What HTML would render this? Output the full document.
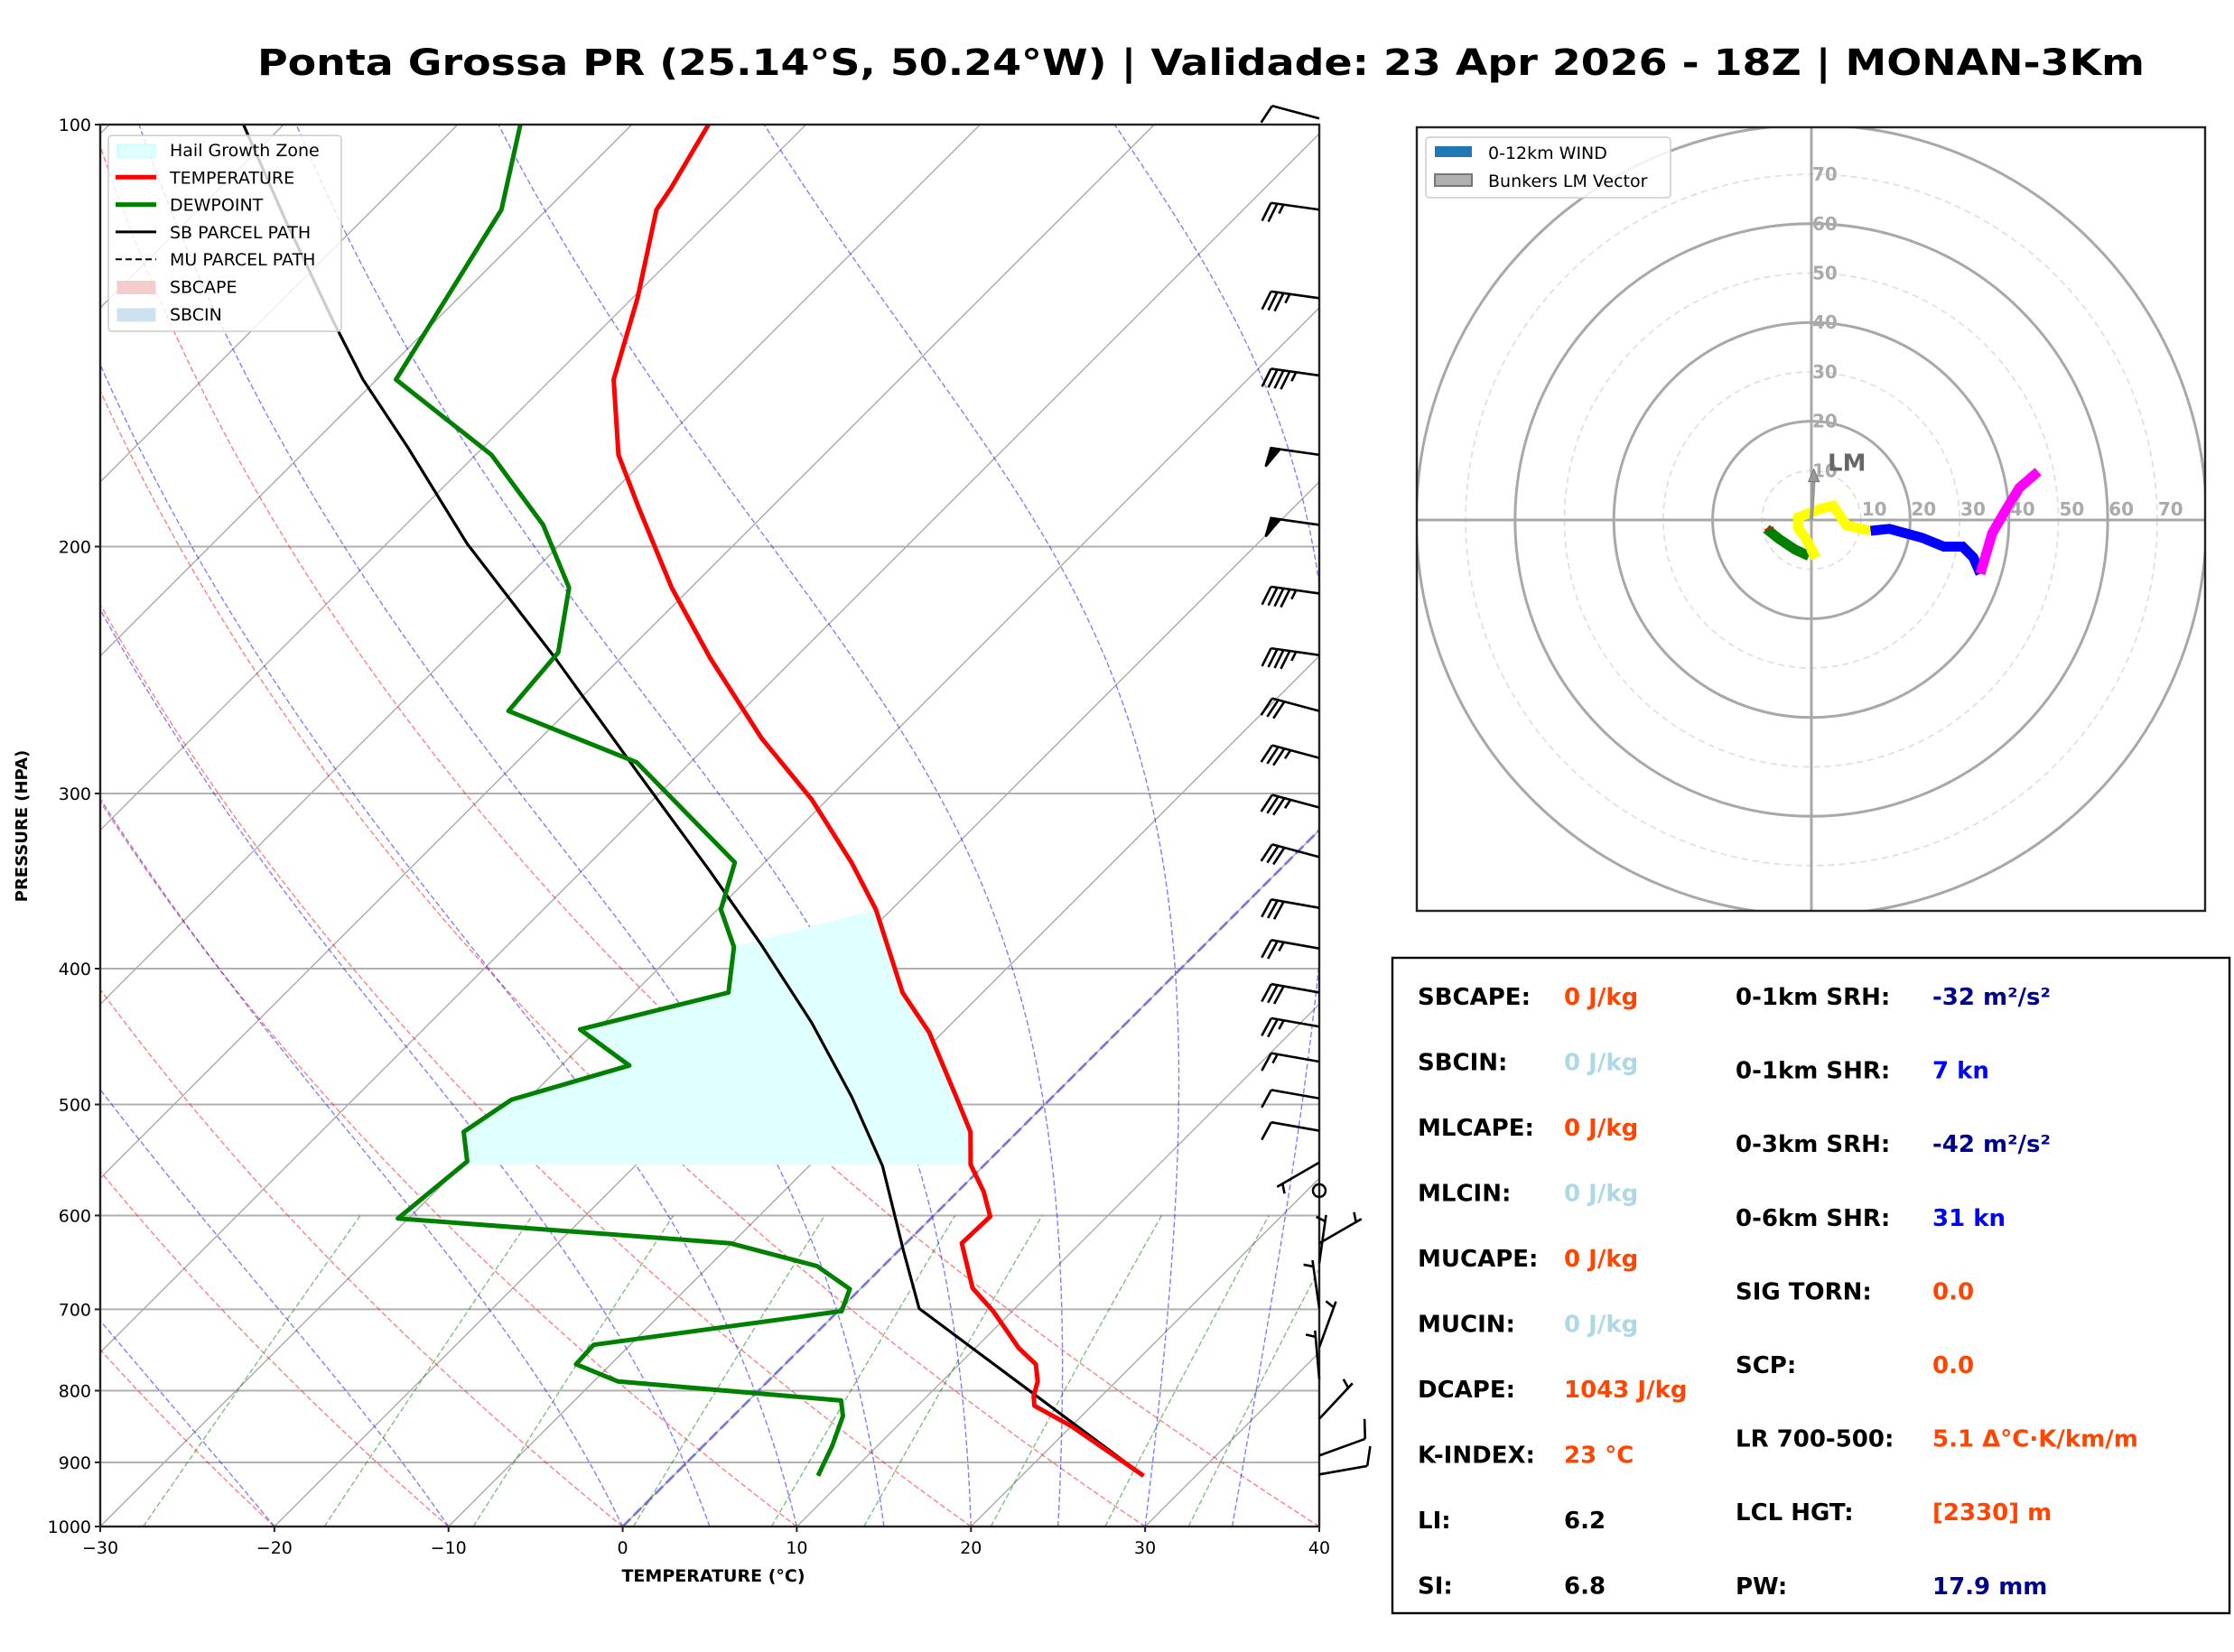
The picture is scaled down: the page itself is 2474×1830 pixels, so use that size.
<!DOCTYPE html>
<html><head><meta charset="utf-8">
<style>
html,body{margin:0;padding:0;background:#fff;}
svg{display:block;font-family:"DejaVu Sans","Liberation Sans",sans-serif;}
</style></head>
<body>
<svg id="fig" xmlns="http://www.w3.org/2000/svg" width="2474" height="1830" viewBox="0 0 2474 1830">
<rect x="0" y="0" width="2474" height="1830" fill="#fff"/>
<text x="1330" y="83" text-anchor="middle" font-size="40" font-weight="bold" textLength="2090" lengthAdjust="spacingAndGlyphs">Ponta Grossa PR (25.14°S, 50.24°W) | Validade: 23 Apr 2026 - 18Z | MONAN-3Km</text>
<defs>
<clipPath id="skewClip"><rect x="111" y="138" width="1350" height="1553"/></clipPath>
<clipPath id="hodoClip"><rect x="1569" y="141" width="873" height="868"/></clipPath>
</defs>
<g id="skew-bg" clip-path="url(#skewClip)"></g>
<g id="skew-data" clip-path="url(#skewClip)"></g>
<g id="skew-axes"></g>
<g id="barbs"></g>
<g id="skew-legend"></g>
<g id="hodo"></g>
<g id="table"></g>
</svg>
<script>
// ---- Sounding data ----
const tempP = [920,848,820,807,788,766,746,702,676,628,601,577,552,523,494,444,416,363,336,303,274,240,214,188,172,152,133,115,111,100];
const tempT = [27.0,20.0,16.7,16.1,15.5,14.4,12.5,8.9,6.4,3.2,3.3,1.5,-0.8,-2.7,-5.5,-10.8,-14.6,-20.9,-25.0,-30.9,-37.3,-44.9,-51.1,-57.5,-61.8,-66.4,-69.7,-73.7,-74.1,-75.6];
const dewP = [920,876,834,813,788,766,742,702,677,652,628,603,549,523,496,469,442,416,386,363,336,285,262,238,214,193,172,152,115,100];
const dewT = [8.3,7.4,6.3,5.3,-8.6,-12.0,-12.1,0.2,-0.6,-3.8,-10.1,-30.6,-29.9,-31.8,-30.9,-26.1,-31.0,-24.6,-26.9,-29.8,-31.7,-43.1,-53.4,-53.9,-57.0,-62.1,-69.1,-78.9,-82.6,-86.4];
const parcelP = [920,699,636,553,494,437,385,341,292,240,199,170,152,138,117,100];
const parcelT = [27.0,4.5,0.3,-5.8,-11.5,-18.1,-25.4,-32.6,-42.0,-53.8,-65.4,-74.3,-80.8,-85.9,-94.4,-102.3];
const hailTopP = 363, hailBottomP = 552, hailDewTopP = 386;
// ---- Wind barbs ----
const barbP = [99,115,133,151,172,193,216,239,262,283,307,333,362,387,416,440,466,495,522,550,576,628,649,699,745,785,838,890,918];
const barbDir = [285,278,278,278,278,278,278,278,285,285,285,285,280,280,280,280,280,280,280,240,0,60,8,352,20,355,43,70,80];
const barbSpd = [10,25,35,45,50,50,45,45,30,35,35,30,30,25,30,25,15,10,10,5,0,5,5,5,5,5,5,10,10];
// ---- Hodograph ----
const hodoGreenU = [-9.1,-6.6,-3.3,-0.5];
const hodoGreenV = [-1.8,-3.8,-6.0,-7.3];
const hodoYellowU = [-0.5,0.5,-1.1,-2.7,-2.7,1.6,4.4,7.1,12.0];
const hodoYellowV = [-7.3,-6.8,-3.8,-1.6,0.5,2.2,2.9,-1.1,-2.2];
const hodoBlueU = [12.0,15.8,22.4,26.8,30.6,32.8,34.2];
const hodoBlueV = [-2.2,-1.8,-3.6,-5.4,-5.4,-7.6,-10.9];
const hodoMagU = [34.2,36.6,38.8,42.1,45.9];
const hodoMagV = [-10.9,-2.7,1.1,6.5,9.8];
const bunkersLM = [0.5,10.3];
const pTicks = [100,200,300,400,500,600,700,800,900,1000];
const tTicks = [-30,-20,-10,0,10,20,30,40];
const hodoRings = [10,20,30,40,50,60,70,80];
const hodoLabels = [10,20,30,40,50,60,70];

const NS='http://www.w3.org/2000/svg';
function mk(tag, attrs, parent){const e=document.createElementNS(NS,tag);for(const k in attrs)e.setAttribute(k,attrs[k]);if(parent)parent.appendChild(e);return e;}
const L=111,R=1461,TOP=138,BOT=1691,H=BOT-TOP,PXC=(R-L)/70;
function yP(p){return TOP+H*Math.log10(p/100);}
function xT(T,p){return L+(T+30)*PXC+(BOT-yP(p));}
function pts(Ts,Ps){return Ts.map((t,i)=>xT(t,Ps[i]).toFixed(1)+','+yP(Ps[i]).toFixed(1)).join(' ');}

const bg=document.getElementById('skew-bg');
pTicks.forEach(p=>{const l=mk('line',{x1:L,x2:R,y1:yP(p),y2:yP(p),stroke:'#b0b0b0','stroke-width':2},bg);

});
for(let T=-130;T<=40;T+=10){const l=mk('line',{x1:xT(T,1000),y1:yP(1000),x2:xT(T,100),y2:yP(100),stroke:'#aaaaaa','stroke-width':1.4},bg);

}
for(let t0=-40;t0<=40;t0+=10){const a=[];for(let p=1000;p>=100;p-=10){const T=(t0+273.15)*Math.pow(p/1000,0.2857)-273.15;a.push(xT(T,p).toFixed(1)+','+yP(p).toFixed(1));}
const l=mk('polyline',{points:a.join(' '),fill:'none',stroke:'rgba(255,0,0,0.5)','stroke-width':1.4,'stroke-dasharray':'6,3'},bg);

}
function es(Tc){return 6.112*Math.exp(17.67*Tc/(Tc+243.5));}
function dTdp(T,p){const Tc=T-273.15;const e=es(Tc);const rs=0.622*e/(p-e);return (287.04*T+2.501e6*rs)/(1005.7+2.501e6*2.501e6*rs*0.622/(287.04*T*T))/p;}
const moistT0=[-40,-30,-20,-10,0,5,10,15,20,25,30,35,40];
moistT0.forEach(t0=>{let T=t0+273.15;const a=[];const dp=-5;for(let p=1000;p>=100;p+=dp){a.push(xT(T-273.15,p).toFixed(1)+','+yP(p).toFixed(1));
const k1=dTdp(T,p),k2=dTdp(T+k1*dp/2,p+dp/2),k3=dTdp(T+k2*dp/2,p+dp/2),k4=dTdp(T+k3*dp,p+dp);T+=dp*(k1+2*k2+2*k3+k4)/6;}
const l=mk('polyline',{points:a.join(' '),fill:'none',stroke:'rgba(0,0,255,0.5)','stroke-width':1.4,'stroke-dasharray':'6,3'},bg);

});
[0.0004,0.001,0.002,0.004,0.007,0.01,0.016,0.024,0.032].forEach(w=>{const a=[];for(let p=1000;p>=600;p-=10){const e=p*w/(0.622+w);const g=Math.log(e/6.112);const Td=243.5*g/(17.67-g);a.push(xT(Td,p).toFixed(1)+','+yP(p).toFixed(1));}
const l=mk('polyline',{points:a.join(' '),fill:'none',stroke:'rgba(0,128,0,0.5)','stroke-width':1.4,'stroke-dasharray':'6,3'},bg);

});
{const l=mk('line',{x1:xT(0,1000),y1:yP(1000),x2:xT(0,100),y2:yP(100),stroke:'rgba(60,60,220,0.55)','stroke-width':3,'stroke-dasharray':'12,5'},bg);

}

const dg=document.getElementById('skew-data');
function interp(Ps,Ts,p){for(let i=0;i<Ps.length-1;i++){const a=Ps[i],b=Ps[i+1];if((a>=p&&p>=b)){const f=(Math.log(a)-Math.log(p))/(Math.log(a)-Math.log(b));return Ts[i]+f*(Ts[i+1]-Ts[i]);}}return Ts[Ts.length-1];}
{const a=[];a.push([interp(dewP,dewT,hailBottomP),hailBottomP]);a.push([interp(tempP,tempT,hailBottomP),hailBottomP]);
tempP.forEach((p,i)=>{if(p<hailBottomP&&p>hailTopP)a.push([tempT[i],p]);});
a.push([interp(tempP,tempT,hailTopP),hailTopP]);a.push([interp(dewP,dewT,hailDewTopP),hailDewTopP]);
const d=[];dewP.forEach((p,i)=>{if(p<hailBottomP&&p>hailDewTopP)d.push([dewT[i],p]);});d.reverse().forEach(q=>a.push(q));
const poly=mk('polygon',{points:a.map(q=>xT(q[0],q[1]).toFixed(1)+','+yP(q[1]).toFixed(1)).join(' '),fill:'#e0ffff',stroke:'none'},dg);

}
{const l=mk('polyline',{points:pts(parcelT,parcelP),fill:'none',stroke:'#000','stroke-width':3.2,'stroke-linejoin':'round'},dg);

}
{const l=mk('polyline',{points:pts(tempT,tempP),fill:'none',stroke:'#ff0000','stroke-width':5,'stroke-linejoin':'round'},dg);

}
{const l=mk('polyline',{points:pts(dewT,dewP),fill:'none',stroke:'#008000','stroke-width':5,'stroke-linejoin':'round'},dg);

}

const ax=document.getElementById('skew-axes');
{const r=mk('rect',{x:L,y:TOP,width:R-L,height:H,fill:'none',stroke:'#222','stroke-width':2.4},ax);

}
pTicks.forEach(p=>{mk('line',{x1:L-6,x2:L,y1:yP(p),y2:yP(p),stroke:'#222','stroke-width':2},ax);
const t=mk('text',{x:L-10,y:yP(p)+7,'text-anchor':'end','font-size':19},ax);t.textContent=p;

});
tTicks.forEach(T=>{const x=L+(T+30)*PXC;mk('line',{x1:x,x2:x,y1:BOT,y2:BOT+6,stroke:'#222','stroke-width':2},ax);
const t=mk('text',{x:x,y:BOT+30,'text-anchor':'middle','font-size':19},ax);t.textContent=(T<0?'\u2212'+(-T):T);

});
{const t=mk('text',{x:790,y:1752,'text-anchor':'middle','font-size':19,'font-weight':'bold'},ax);t.textContent='TEMPERATURE (°C)';

}
{const t=mk('text',{x:0,y:0,'text-anchor':'middle','font-size':18,'font-weight':'bold',transform:'translate(30,915) rotate(-90)'},ax);t.textContent='PRESSURE (HPA)';

}

const bb=document.getElementById('barbs');
barbP.forEach((p,i)=>{const x0=R,y0=yP(p);const spd=barbSpd[i];
if(spd===0){const c=mk('circle',{cx:x0,cy:y0,r:7,fill:'none',stroke:'#000','stroke-width':2.5},bb);

return;}
const d=barbDir[i]*Math.PI/180;const sx=Math.sin(d),sy=-Math.cos(d);const Ls=54;
const tx=x0+sx*Ls,ty=y0+sy*Ls;const px=sy,py=-sx;
const g=mk('g',{stroke:'#000','stroke-width':2.6,fill:'#000'},bb);


mk('line',{x1:x0,y1:y0,x2:tx,y2:ty},g);
let s=spd,pos=0;const sp=7,FL=21;
while(s>=50){const bx=tx-sx*pos,by=ty-sy*pos;mk('polygon',{points:`${bx},${by} ${bx+px*FL+sx*3},${by+py*FL+sy*3} ${bx-sx*10},${by-sy*10}`},g);pos+=13;s-=50;}
while(s>=10){const bx=tx-sx*pos,by=ty-sy*pos;mk('line',{x1:bx,y1:by,x2:bx+px*FL+sx*7,y2:by+py*FL+sy*7},g);pos+=sp;s-=10;}
if(s>=5){if(pos===0)pos=sp;const bx=tx-sx*pos,by=ty-sy*pos;mk('line',{x1:bx,y1:by,x2:bx+px*FL/2+sx*3.5,y2:by+py*FL/2+sy*3.5},g);}
});

const lg=document.getElementById('skew-legend');
mk('rect',{x:120,y:150,width:258,height:217,rx:4,fill:'rgba(255,255,255,0.8)',stroke:'#cccccc','stroke-width':1.5},lg);
const legItems=[['Hail Growth Zone','patch','#e0ffff','#b0ffff'],['TEMPERATURE','line','#ff0000',''],['DEWPOINT','line','#008000',''],['SB PARCEL PATH','line','#000',''],['MU PARCEL PATH','dash','#000',''],['SBCAPE','patch','#f4cccc','#f4cccc'],['SBCIN','patch','#cfe0ee','#cfe0ee']];
legItems.forEach((it,i)=>{const y=166+i*30.3;const g=mk('g',{},lg);


if(it[1]==='patch')mk('rect',{x:130,y:y-6,width:42,height:14,fill:it[2],stroke:it[3],'stroke-width':1},g);
else if(it[1]==='line')mk('line',{x1:128,x2:173,y1:y,y2:y,stroke:it[2],'stroke-width':it[2]==='#000'?3:5},g);
else mk('line',{x1:128,x2:173,y1:y,y2:y,stroke:it[2],'stroke-width':2,'stroke-dasharray':'7,4'},g);
const t=mk('text',{x:188,y:y+7,'font-size':19},g);t.textContent=it[0];});

const hg=document.getElementById('hodo');
const HCX=2006,HCY=576,HS=5.47;
function hx(u){return HCX+u*HS;}function hy(v){return HCY-v*HS;}
const hc=mk('g',{'clip-path':'url(#hodoClip)'},hg);
hodoRings.forEach(r=>{const c=mk('circle',{cx:HCX,cy:HCY,r:r*HS,fill:'none',stroke:r%20===0?'#a8a8a8':'#dddddd','stroke-width':r%20===0?3:1.6,'stroke-dasharray':r%20===0?'none':'7,5'},hc);

});
mk('line',{x1:1569,x2:2442,y1:HCY,y2:HCY,stroke:'#a8a8a8','stroke-width':3},hc);
mk('line',{x1:HCX,x2:HCX,y1:141,y2:1009,stroke:'#a8a8a8','stroke-width':3},hc);
hodoLabels.forEach(r=>{const t=mk('text',{x:hx(r)+1,y:HCY-5,'font-size':20,'font-weight':'bold',fill:'#aaaaaa'},hg);t.textContent=r;


const t2=mk('text',{x:HCX+1,y:hy(r)+7,'font-size':20,'font-weight':'bold',fill:'#aaaaaa'},hg);t2.textContent=r;

});
function hline(U,V,col,name){const l=mk('polyline',{points:U.map((u,i)=>hx(u).toFixed(1)+','+hy(V[i]).toFixed(1)).join(' '),fill:'none',stroke:col,'stroke-width':11,'stroke-linejoin':'miter'},hc);

}
hline(hodoGreenU,hodoGreenV,'#008000','hodo-0-1km');
hline(hodoYellowU,hodoYellowV,'#ffff00','hodo-1-3km');
hline(hodoBlueU,hodoBlueV,'#0000ff','hodo-3-6km');
hline(hodoMagU,hodoMagV,'#ff00ff','hodo-6-12km');
{const l=mk('line',{x1:hx(hodoGreenU[0])-2,y1:hy(hodoGreenV[0])+1,x2:hx(hodoGreenU[0])+8,y2:hy(hodoGreenV[0])-2,stroke:'#ff0000','stroke-width':1.5},hc);

}
{const g=mk('g',{},hg);


const ex=hx(bunkersLM[0]),ey=hy(bunkersLM[1]);
mk('line',{x1:HCX,y1:HCY,x2:ex,y2:ey+10,stroke:'#999','stroke-width':4},g);
mk('polygon',{points:`${ex},${ey} ${ex-6},${ey+14} ${ex+6},${ey+14}`,fill:'#999',stroke:'#777','stroke-width':1},g);
const t=mk('text',{x:HCX+18,y:hy(bunkersLM[1])+2,'font-size':26,'font-weight':'bold',fill:'#666'},g);t.textContent='LM';}
{const r=mk('rect',{x:1569,y:141,width:873,height:868,fill:'none',stroke:'#222','stroke-width':2.4},hg);

}
{const g=mk('g',{},hg);


mk('rect',{x:1579,y:152,width:271,height:67,rx:4,fill:'rgba(255,255,255,0.85)',stroke:'#cccccc','stroke-width':1.5},g);
mk('rect',{x:1589,y:162,width:41,height:12,fill:'#1f77b4'},g);
mk('rect',{x:1589,y:193,width:41,height:13,fill:'#b0b0b0',stroke:'#777','stroke-width':2},g);
const t1=mk('text',{x:1648,y:176,'font-size':19},g);t1.textContent='0-12km WIND';
const t2=mk('text',{x:1648,y:207,'font-size':19},g);t2.textContent='Bunkers LM Vector';}

const tb=document.getElementById('table');
{const r=mk('rect',{x:1542,y:1061,width:927,height:726,fill:'#fff',stroke:'#000','stroke-width':2.4},tb);

}
const leftRows=[['SBCAPE:','0 J/kg','#ff4500'],['SBCIN:','0 J/kg','#add8e6'],['MLCAPE:','0 J/kg','#ff4500'],['MLCIN:','0 J/kg','#add8e6'],['MUCAPE:','0 J/kg','#ff4500'],['MUCIN:','0 J/kg','#add8e6'],['DCAPE:','1043 J/kg','#ff4500'],['K-INDEX:','23 °C','#ff4500'],['LI:','6.2','#000'],['SI:','6.8','#000']];
const rightRows=[['0-1km SRH:','-32 m²/s²','#00008b'],['0-1km SHR:','7 kn','#0000ff'],['0-3km SRH:','-42 m²/s²','#00008b'],['0-6km SHR:','31 kn','#0000ff'],['SIG TORN:','0.0','#ff4500'],['SCP:','0.0','#ff4500'],['LR 700-500:','5.1 Δ°C·K/km/m','#ff4500'],['LCL HGT:','[2330] m','#ff4500'],['PW:','17.9 mm','#00008b']];
leftRows.forEach((r,i)=>{const y=1113+i*72.5;const a=mk('text',{x:1570,y:y,'font-size':26,'font-weight':'bold'},tb);a.textContent=r[0];


const b=mk('text',{x:1732,y:y,'font-size':26,'font-weight':'bold',fill:r[2]},tb);b.textContent=r[1];

});
rightRows.forEach((r,i)=>{const y=1113+i*81.6;const a=mk('text',{x:1922,y:y,'font-size':26,'font-weight':'bold'},tb);a.textContent=r[0];


const b=mk('text',{x:2140,y:y,'font-size':26,'font-weight':'bold',fill:r[2]},tb);b.textContent=r[1];

});
</script>
</body></html>
